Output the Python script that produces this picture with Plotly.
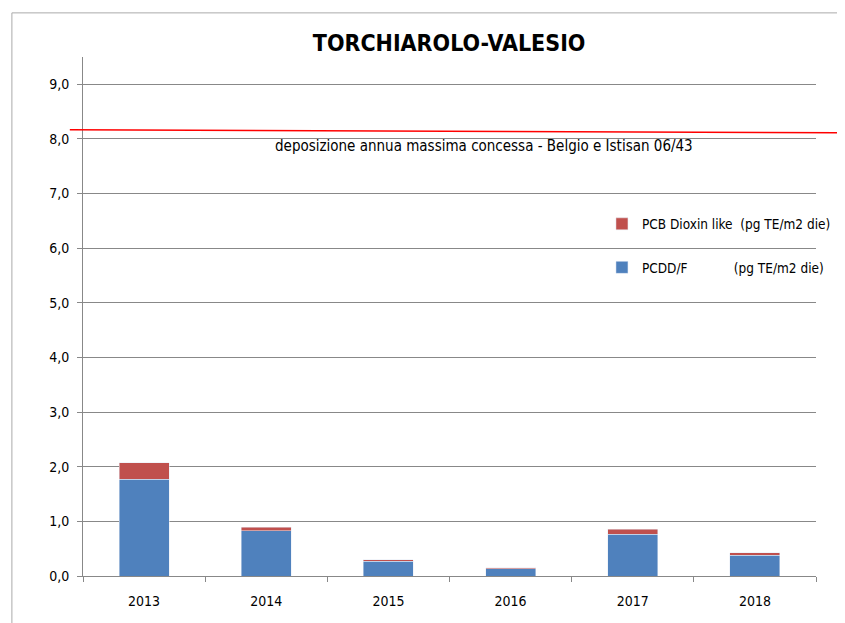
import plotly.graph_objects as go

years = ["2013", "2014", "2015", "2016", "2017", "2018"]
pcdd_f = [1.77, 0.83, 0.27, 0.13, 0.76, 0.38]
pcb_dl = [0.30, 0.06, 0.03, 0.02, 0.10, 0.05]
limit_start = 8.17
limit_end = 8.11
limit_label = "deposizione annua massima concessa - Belgio e Istisan 06/43"
title_text = "TORCHIAROLO-VALESIO"
name_pcdd = "PCDD/F" + "\u00a0" * 12 + "(pg TE/m2 die)"
name_pcb = "PCB Dioxin like\u00a0\u00a0(pg TE/m2 die)"

FONT = "Liberation Sans Narrow, Arial Narrow, DejaVu Sans Condensed, sans-serif"
GRID = "#888888"

fig = go.Figure()
fig.add_trace(go.Bar(x=years, y=pcdd_f, name=name_pcdd, marker_color="#4F81BD",
                     width=0.41, legendgroup="a", legendrank=2))
fig.add_trace(go.Bar(x=years, y=pcb_dl, name=name_pcb, marker_color="#C0504D",
                     width=0.41, legendgroup="b", legendrank=1))

fig.update_layout(
    width=837, height=615,
    margin=dict(l=75, r=29, t=49, b=47, autoexpand=False),
    barmode="stack",
    separators=",.",
    plot_bgcolor="white", paper_bgcolor="white",
    font=dict(family=FONT, size=15, color="#000000"),
    title=dict(text=title_text, x=0.527, xanchor="center", y=0.943, yanchor="middle",
               font=dict(family=FONT, size=23, color="#000000", weight="bold")),
    legend=dict(x=0.708, y=0.708, xanchor="left", yanchor="top",
                traceorder="grouped", tracegroupgap=23,
                font=dict(size=13.5), bgcolor="rgba(0,0,0,0)"),
    xaxis=dict(type="category", showgrid=False, showline=True, linecolor=GRID,
               ticks="outside", ticklen=5, tickcolor=GRID, tickson="boundaries",
               tickfont=dict(size=14), automargin=False, ticklabelstandoff=12),
    yaxis=dict(range=[0, 9.5], tickvals=[0, 1, 2, 3, 4, 5, 6, 7, 8, 9],
               tickformat=".1f", showgrid=True, gridcolor=GRID, gridwidth=1,
               showline=True, linecolor=GRID, ticks="outside", ticklen=5,
               tickcolor=GRID, zeroline=False, tickfont=dict(size=14),
               automargin=False, ticklabelstandoff=5),
    bargap=0.59,
)

fig.add_shape(type="line", xref="paper", yref="y", x0=-0.018, x1=1.05,
              y0=limit_start, y1=limit_end, line=dict(color="#FF0000", width=1.5))
fig.add_shape(type="line", xref="paper", yref="paper", x0=-0.097, x1=-0.097,
              y0=-0.2, y1=1.085, line=dict(color="#AAAAAA", width=1), layer="below")
fig.add_shape(type="line", xref="paper", yref="paper", x0=-0.097, x1=1.1,
              y0=1.085, y1=1.085, line=dict(color="#AAAAAA", width=1), layer="below")
fig.add_annotation(text=limit_label, xref="paper", yref="y", x=0.547, y=7.88,
                   showarrow=False, xanchor="center", yanchor="middle",
                   font=dict(size=15, color="#000000"))

fig.write_html("out.html")
